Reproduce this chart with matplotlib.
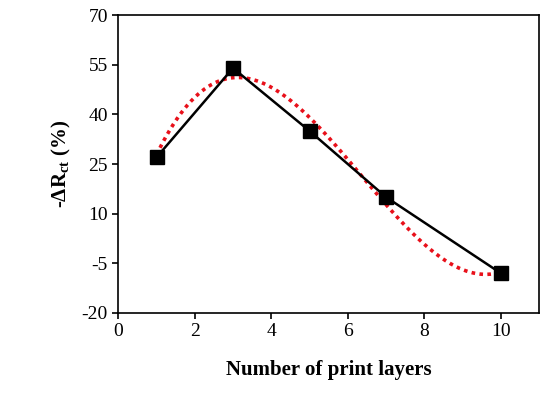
import numpy as np
import matplotlib.pyplot as plt

plt.rcParams['font.family'] = ['Liberation Serif', 'DejaVu Serif']
plt.rcParams['axes.unicode_minus'] = False
plt.rcParams['mathtext.fontset'] = 'custom'
plt.rcParams['mathtext.bf'] = 'Liberation Serif:bold'

layers = [1, 3, 5, 7, 10]
delta_rct = [27, 54, 35, 15, -8]
x_ticks = [0, 2, 4, 6, 8, 10]
y_ticks = [-20, -5, 10, 25, 40, 55, 70]

fig = plt.figure(figsize=(5.5, 4.09), dpi=100)
ax = fig.add_axes([0.215, 0.235, 0.765, 0.728])

# 3rd order polynomial trend line
coef = np.polyfit(layers, delta_rct, 3)
xs = np.linspace(min(layers), max(layers), 200)
ax.plot(xs, np.polyval(coef, xs), color='#e8101a', linestyle=(0, (1, 1.2)), linewidth=2.6)

ax.plot(layers, delta_rct, color='black', linewidth=1.8, marker='s', markersize=10)

ax.set_xlim(0, 11)
ax.set_ylim(-20, 70)
ax.set_xticks(x_ticks)
ax.set_yticks(y_ticks)
for lbl in ax.get_xticklabels() + ax.get_yticklabels():
    lbl.set_fontsize(14)
ax.tick_params(direction='out', length=4, width=1.2)
for s in ax.spines.values():
    s.set_linewidth(1.2)

ax.set_xlabel('Number of print layers', fontsize=15, fontweight='bold', labelpad=14)
ax.set_ylabel(r'-ΔR$_{\mathbf{ct}}$ (%)', fontsize=15, fontweight='bold', labelpad=6)

fig.savefig('out.png', dpi=100)
